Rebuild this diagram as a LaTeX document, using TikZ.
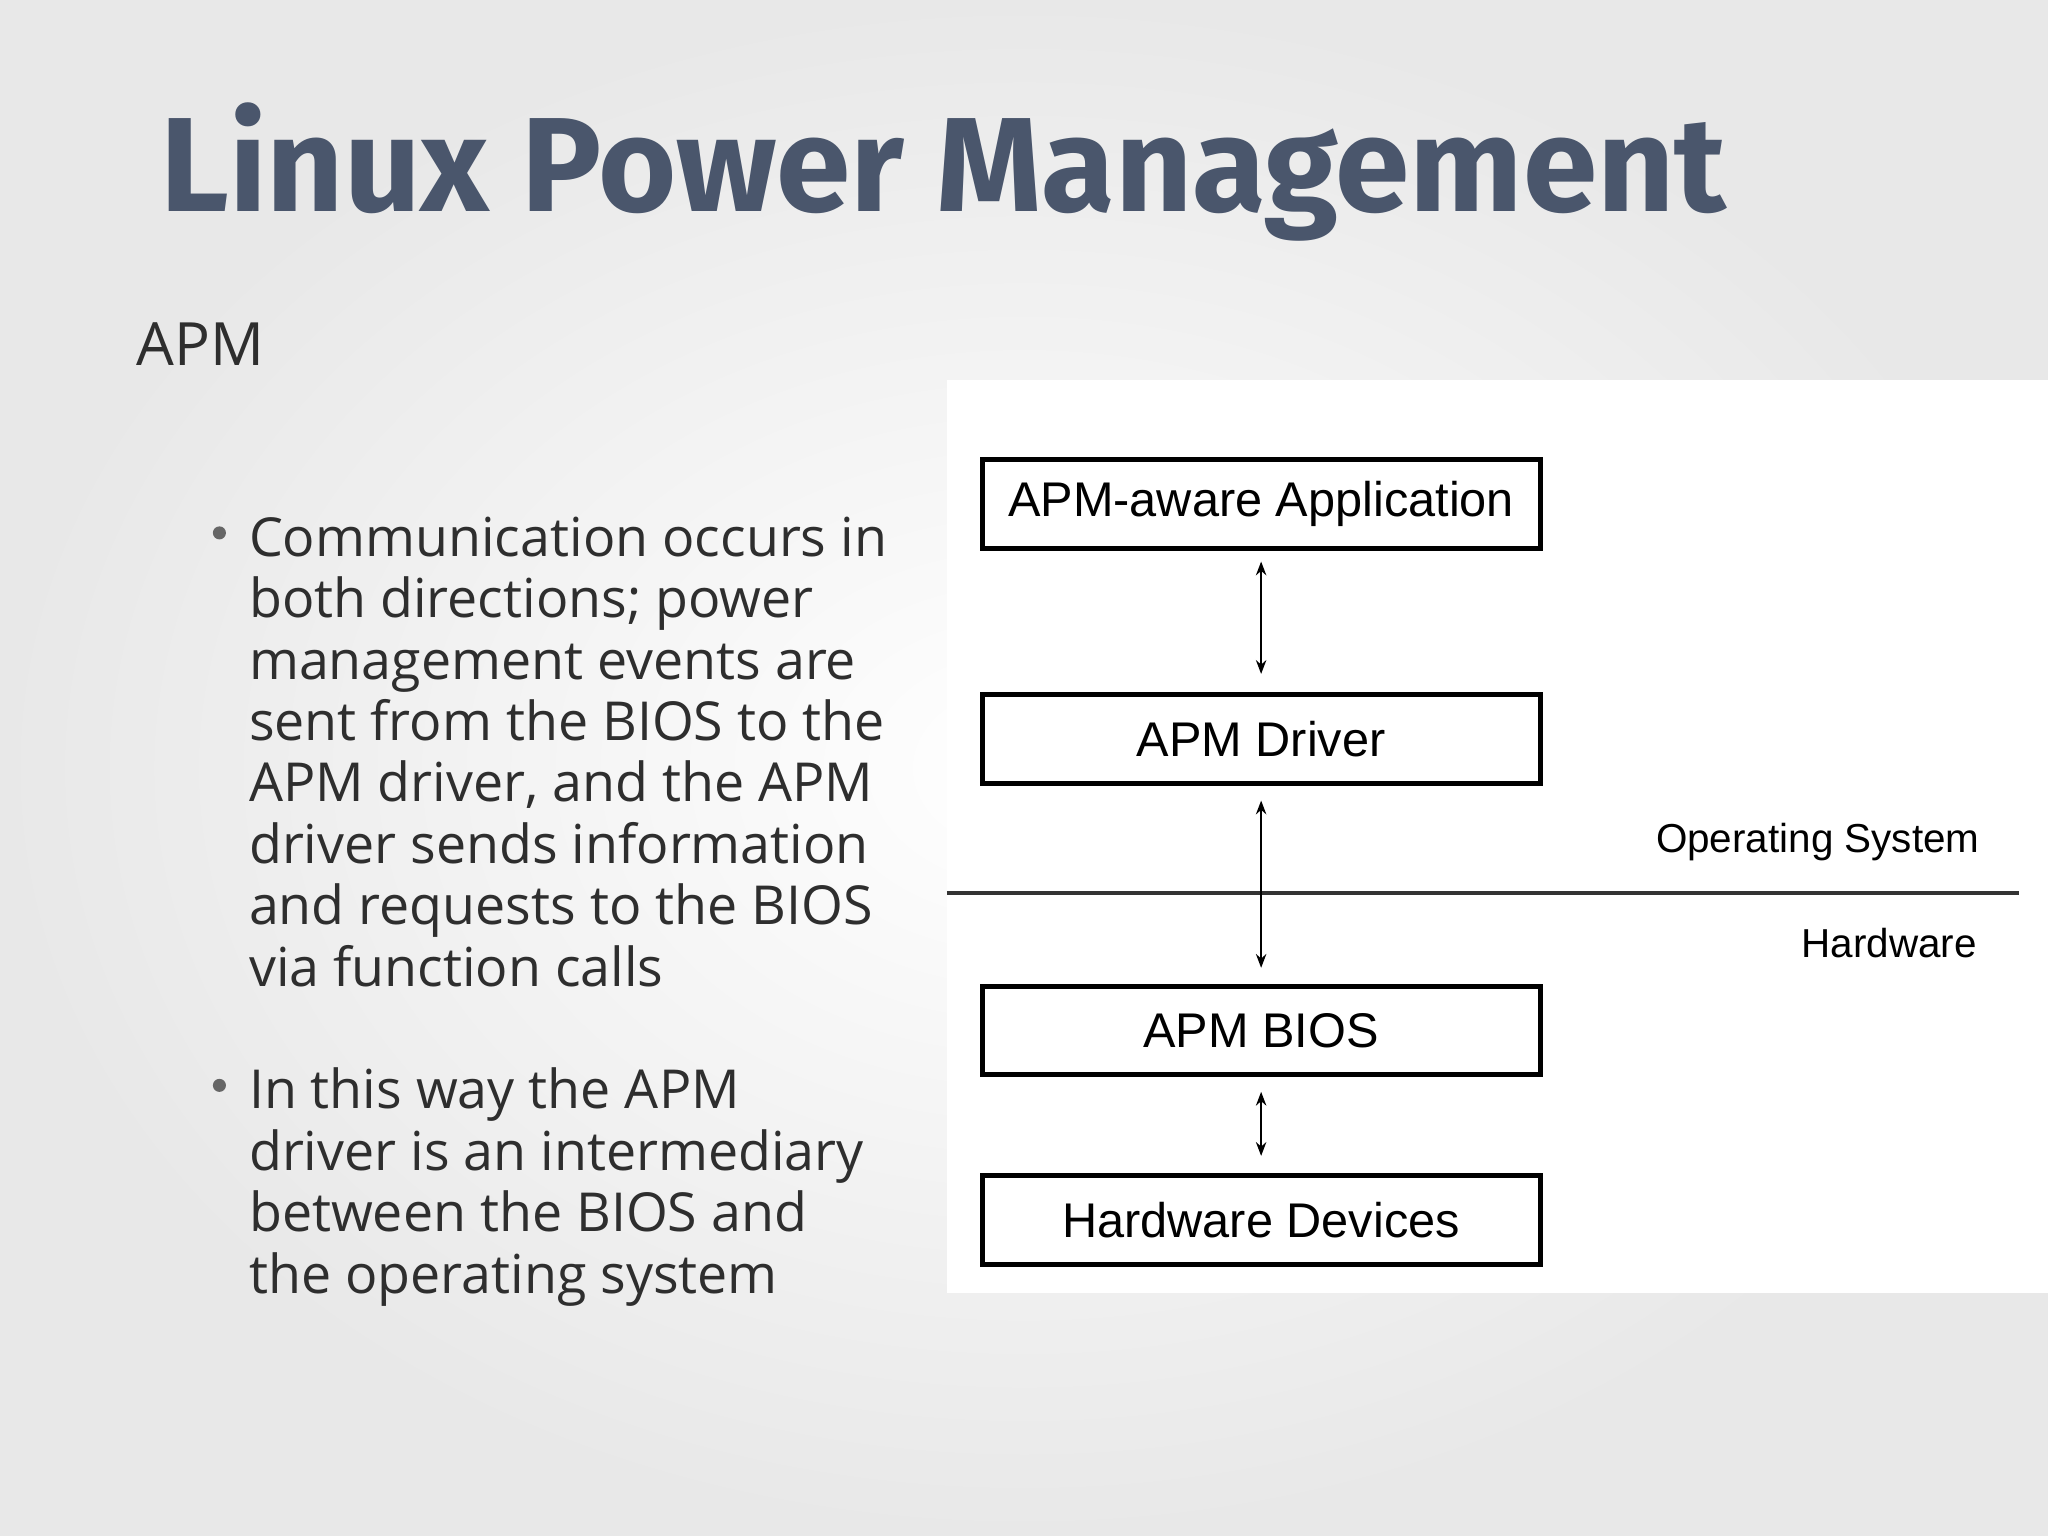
\documentclass[tikz,border=0pt]{standalone}
\usetikzlibrary{arrows.meta}
\usepackage{fontspec}
\setmainfont{Open Sans}
\newfontfamily\arial{Liberation Sans}
\newfontfamily\titlef{Fira Sans}
\definecolor{titlec}{HTML}{4A566C}
\definecolor{bodyc}{HTML}{2E2E2E}
\begin{document}
\begin{tikzpicture}[x=0.01cm,y=-0.01cm,
  box/.style={draw=black,line width=1.1pt,minimum width=4.27cm,minimum height=0.68cm,anchor=north west,inner sep=0pt},
  boxtxt/.style={font=\arial\fontsize{10.6}{12}\selectfont},
  lbl/.style={font=\arial\fontsize{8.8}{10}\selectfont,anchor=base east},
  body/.style={font=\fontsize{11.7}{13}\selectfont,text=bodyc,anchor=base west,inner sep=0pt},
  arr/.style={line width=0.5pt,{Stealth[length=3pt]}-{Stealth[length=3pt]}}]
\useasboundingbox (0,0) rectangle (1568,1176);
\shade[inner color=white,outer color=black!9] (0,0) rectangle (1568,1176);
\node[anchor=base west,inner sep=0pt,text=titlec,font=\titlef\bfseries\fontsize{29.2}{32}\selectfont] (title) at (122,162) {Linux Power Management};
\node[anchor=base west,inner sep=0pt,text=bodyc,font=\fontsize{13}{15}\selectfont] (apm) at (104,280) {APM};
\foreach \t [count=\i] in {Communication occurs in,both directions; power,management events are,sent from the BIOS to the,{APM driver, and the APM},driver sends information,and requests to the BIOS,via function calls}
  \node[body] (a\i) at (190,{426+47*(\i-1)}) {\t};
\foreach \t [count=\i] in {In this way the APM,driver is an intermediary,between the BIOS and,the operating system}
  \node[body] (b\i) at (190,{849+47*(\i-1)}) {\t};
\fill[black!60] (168,408) circle (5) (168,831) circle (5);
\fill[white] (725,291) rectangle (1568,990);
\node[box] (app) at (750,350) {};
\node[boxtxt] at (app.center) {APM-aware Application};
\node[box] (drv) at (750,530) {};
\node[boxtxt] at (drv.center) {APM Driver};
\node[box] (bios) at (750,753) {};
\node[boxtxt] at (bios.center) {APM BIOS};
\node[box] (hw) at (750,898) {};
\node[boxtxt] at (hw.center) {Hardware Devices};
\coordinate (l1) at (725,684); \coordinate (l2) at (1546,684);
\draw[line width=0.9pt,black!80] (l1) -- (l2);
\draw[arr] ([yshift=-0.08cm]app.south) -- ([yshift=0.14cm]drv.north);
\draw[arr] ([yshift=-0.11cm]drv.south) -- ([yshift=0.12cm]bios.north);
\draw[arr] ([yshift=-0.11cm]bios.south) -- ([yshift=0.13cm]hw.north);
\node[lbl] (os) at (1528,653) {Operating System};
\node[lbl] (hwl) at (1526,733) {Hardware};
\end{tikzpicture}
\end{document}
